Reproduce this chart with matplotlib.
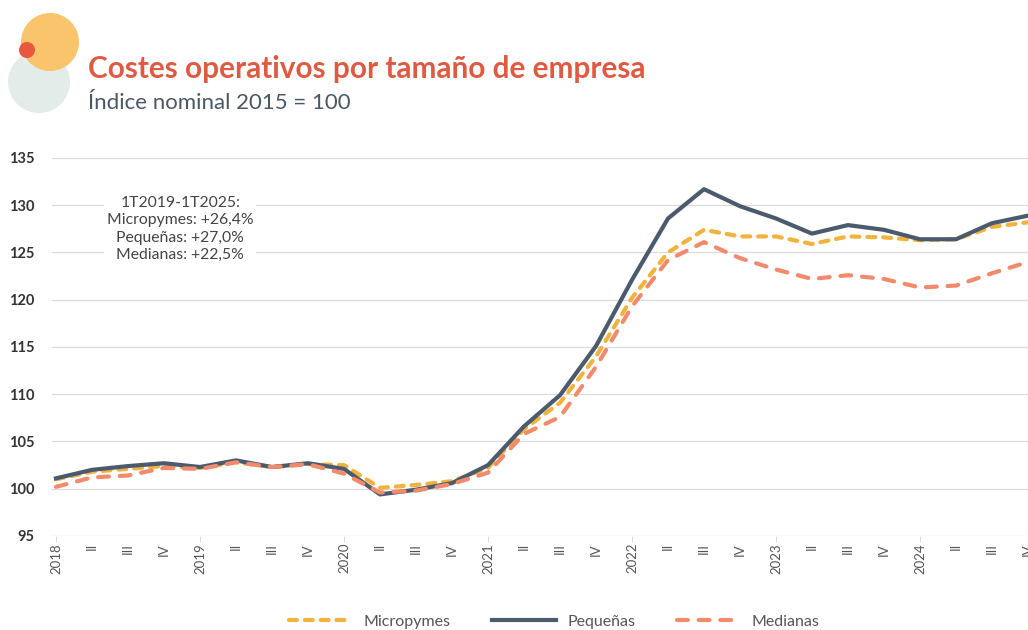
import matplotlib.pyplot as plt
from matplotlib.patches import Circle
import numpy as np

plt.rcParams['font.family'] = ['Lato', 'DejaVu Sans']

# quarters 2018-I .. 2024-IV
quarters = ['2018', 'II', 'III', 'IV', '2019', 'II', 'III', 'IV',
            '2020', 'II', 'III', 'IV', '2021', 'II', 'III', 'IV',
            '2022', 'II', 'III', 'IV', '2023', 'II', 'III', 'IV',
            '2024', 'II', 'III', 'IV']

micropymes = [101.0, 101.8, 102.1, 102.4, 102.2, 102.8, 102.3, 102.6,
              102.5, 100.1, 100.4, 100.8, 102.2, 106.3, 109.1, 114.0,
              120.2, 125.0, 127.4, 126.7, 126.7, 125.9, 126.7, 126.6,
              126.3, 126.4, 127.7, 128.2]
pequenas = [101.1, 102.0, 102.4, 102.7, 102.3, 103.0, 102.3, 102.7,
            102.1, 99.4, 99.9, 100.6, 102.5, 106.6, 109.9, 115.1,
            122.1, 128.6, 131.7, 129.9, 128.6, 127.0, 127.9, 127.4,
            126.4, 126.4, 128.1, 128.9]
medianas = [100.2, 101.2, 101.4, 102.2, 102.1, 102.8, 102.3, 102.6,
            101.6, 99.6, 99.8, 100.5, 101.7, 105.8, 107.6, 112.9,
            119.3, 124.2, 126.1, 124.4, 123.2, 122.2, 122.6, 122.2,
            121.3, 121.5, 122.8, 124.0]

c_micro = '#f2b33d'
c_peq = '#4b5b6d'
c_med = '#f28a6c'

fig = plt.figure(figsize=(10.28, 6.3), dpi=100)

# decorative circles behind the title
deco = fig.add_axes([0, 0, 1, 1], zorder=0)
deco.set_xlim(0, 1028)
deco.set_ylim(630, 0)
deco.axis('off')
deco.add_patch(Circle((39, 82), 31, color='#e4ecea', lw=0))
deco.add_patch(Circle((50, 42), 29, color='#f9c46b', lw=0))
deco.add_patch(Circle((27, 50), 8, color='#e9573f', lw=0))

fig.text(88 / 1028, 1 - 69 / 630, 'Costes operativos por tamaño de empresa',
         fontsize=21.4, fontweight='bold', color='#e05a42', va='center')
fig.text(88 / 1028, 1 - 103 / 630, 'Índice nominal 2015 = 100',
         fontsize=16, color='#4a5866', va='center')

x = np.arange(len(quarters))
ax = fig.add_axes([52.4 / 1028, 94 / 630, 27.6 * 36 / 1028, 378 / 630], zorder=1)
ax.patch.set_alpha(0)

ax.plot(x, micropymes, color=c_micro, lw=3, ls=(0, (1.9, 1.9)),
        dash_capstyle='round', label='Micropymes', zorder=3)
ax.plot(x, pequenas, color=c_peq, lw=3, label='Pequeñas', zorder=4)
ax.plot(x, medianas, color=c_med, lw=3, ls=(0, (2.6, 2.6)),
        dash_capstyle='round', label='Medianas', zorder=5)

ax.set_xlim(-0.1, 27.5)
ax.set_ylim(95, 135)
ax.set_yticks(np.arange(95, 136, 5))
ax.grid(axis='y', color='#dcdcdc', lw=0.9)
ax.set_axisbelow(True)
for s in ax.spines.values():
    s.set_visible(False)
ax.tick_params(axis='y', length=0, pad=13, labelsize=10.5, labelcolor='#333333')
for t in ax.get_yticklabels():
    t.set_fontweight('bold')

years = [i for i in x if i % 4 == 0]
others = [i for i in x if i % 4 != 0]
ax.set_xticks(years)
ax.set_xticklabels([quarters[i] for i in years], rotation=90)
ax.set_xticks(others, minor=True)
ax.set_xticklabels([quarters[i] for i in others], rotation=90, minor=True)
ax.tick_params(axis='x', which='major', length=4, color='#dcdcdc',
               labelsize=9.5, labelcolor='#555555', pad=1)
ax.tick_params(axis='x', which='minor', length=0, labelsize=9.5,
               labelcolor='#555555', pad=5)

ax.text(3.45, 127.5, '1T2019-1T2025:\nMicropymes: +26,4%\nPequeñas: +27,0%\nMedianas: +22,5%',
        ha='center', va='center', fontsize=11.3, color='#444444', linespacing=1.3,
        bbox=dict(facecolor='white', edgecolor='none', pad=2), zorder=6)

fig.legend(loc='center', bbox_to_anchor=(0.539, 0.013), ncol=3, frameon=False,
           fontsize=11.5, handlelength=4, handletextpad=0.7, columnspacing=2.6,
           labelcolor='#555555')

fig.savefig('out.png', dpi=100)
